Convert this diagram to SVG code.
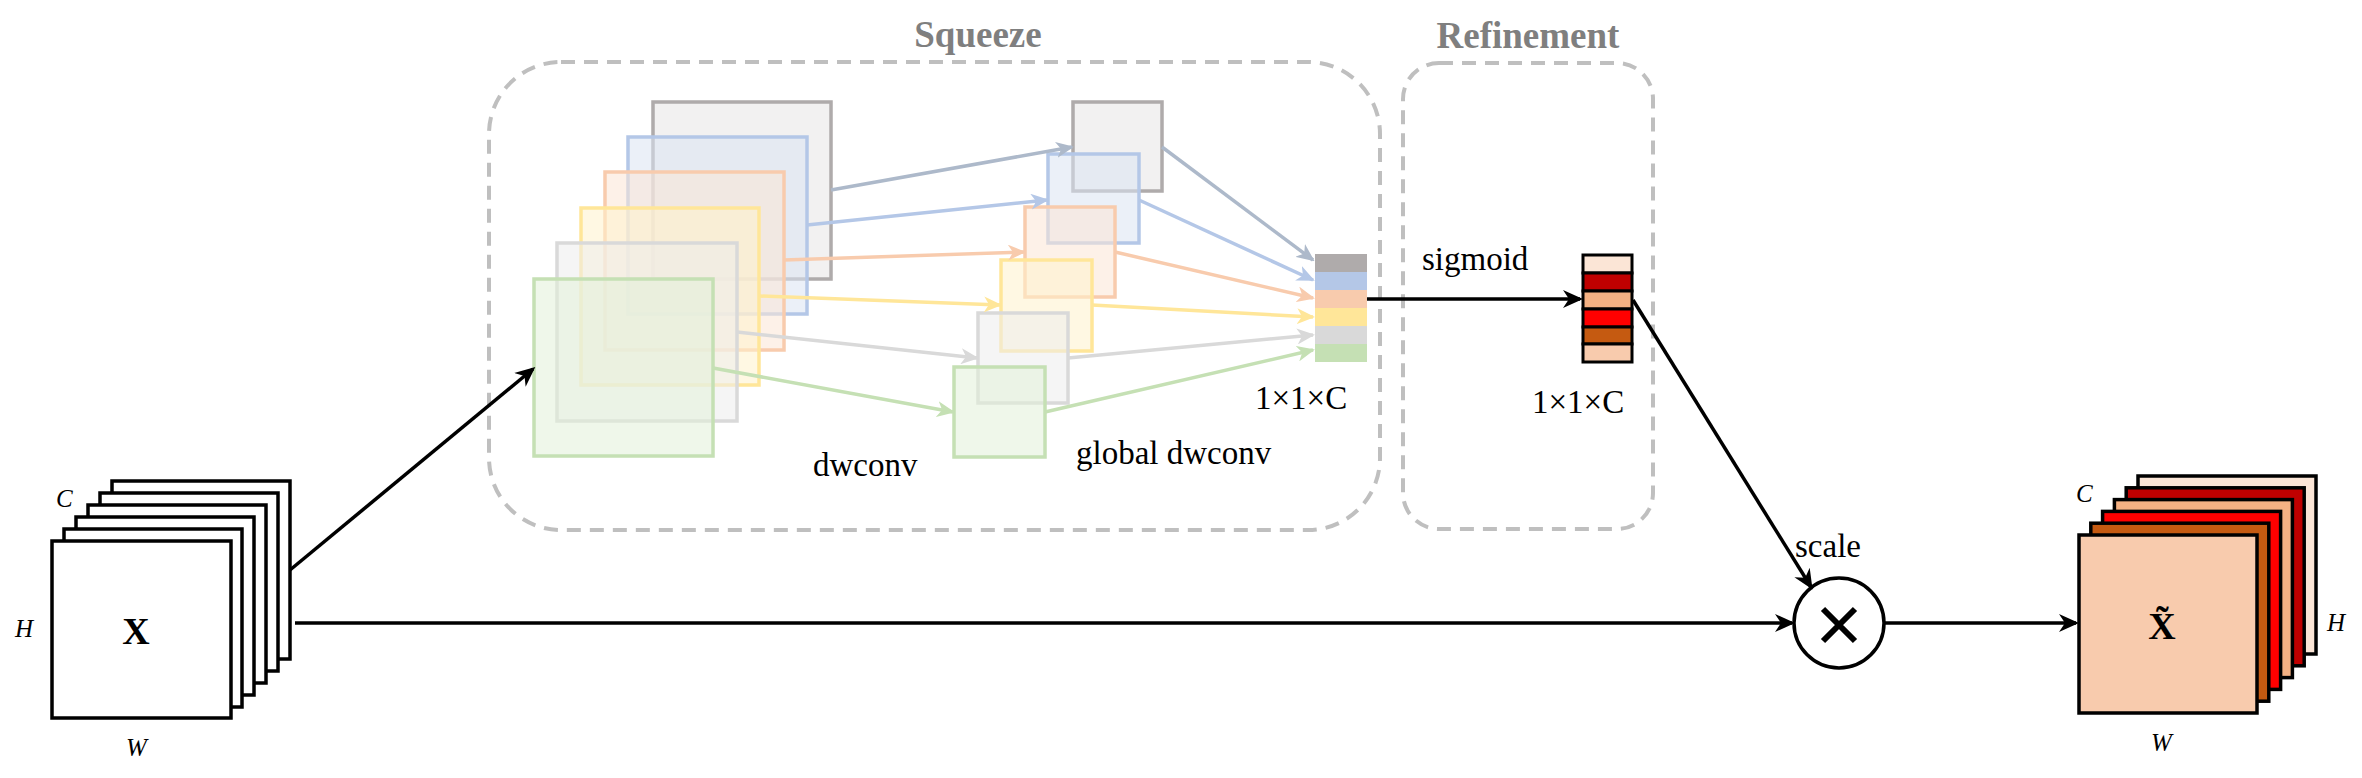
<svg xmlns="http://www.w3.org/2000/svg" width="2362" height="778" viewBox="0 0 2362 778">
<style>
  .t { font-family: "Liberation Serif", "Times New Roman", serif; fill: #000; }
  .lab { font-size: 33px; }
  .dim { font-size: 25px; font-style: italic; }
  .title { font-size: 37px; font-weight: bold; fill: #7F7F7F; text-anchor: middle; }
  .big { font-size: 38px; font-weight: bold; text-anchor: middle; }
  .grp { fill: none; stroke: #BFBFBF; stroke-width: 4; stroke-dasharray: 14 9; }
  .plane { stroke: #000; stroke-width: 3.5; }
  .fm { stroke-width: 3.5; fill-opacity: 0.55; }
  .blk { fill: none; stroke: #000; stroke-width: 3.5; }
  .ca { fill: none; stroke-width: 3.5; }
</style>
<defs>
  <marker id="ab" viewBox="0 0 20 20" refX="17" refY="10" markerWidth="20" markerHeight="20" markerUnits="userSpaceOnUse" orient="auto">
    <path d="M0,1 L20,10 L0,19 L6,10 z" fill="#000"/>
  </marker>
  <marker id="a1" viewBox="0 0 18 16" refX="16" refY="8" markerWidth="18" markerHeight="16" markerUnits="userSpaceOnUse" orient="auto"><path d="M0,0 L18,8 L0,16 L5,8 z" fill="#ADB9CA"/></marker>
  <marker id="a2" viewBox="0 0 18 16" refX="16" refY="8" markerWidth="18" markerHeight="16" markerUnits="userSpaceOnUse" orient="auto"><path d="M0,0 L18,8 L0,16 L5,8 z" fill="#B4C7E7"/></marker>
  <marker id="a3" viewBox="0 0 18 16" refX="16" refY="8" markerWidth="18" markerHeight="16" markerUnits="userSpaceOnUse" orient="auto"><path d="M0,0 L18,8 L0,16 L5,8 z" fill="#F8CBAD"/></marker>
  <marker id="a4" viewBox="0 0 18 16" refX="16" refY="8" markerWidth="18" markerHeight="16" markerUnits="userSpaceOnUse" orient="auto"><path d="M0,0 L18,8 L0,16 L5,8 z" fill="#FFE699"/></marker>
  <marker id="a5" viewBox="0 0 18 16" refX="16" refY="8" markerWidth="18" markerHeight="16" markerUnits="userSpaceOnUse" orient="auto"><path d="M0,0 L18,8 L0,16 L5,8 z" fill="#D9D9D9"/></marker>
  <marker id="a6" viewBox="0 0 18 16" refX="16" refY="8" markerWidth="18" markerHeight="16" markerUnits="userSpaceOnUse" orient="auto"><path d="M0,0 L18,8 L0,16 L5,8 z" fill="#C5E0B4"/></marker>
</defs>
<rect width="2362" height="778" fill="#fff"/>

<g id="squeeze-group">
  <rect class="grp" x="489" y="62" width="891" height="468" rx="72" ry="72"/>
  <text class="t title" x="978" y="47">Squeeze</text>
</g>
<g id="refinement-group">
  <rect class="grp" x="1403" y="63" width="250" height="466" rx="36" ry="36"/>
  <text class="t title" x="1528" y="48">Refinement</text>
</g>

<g id="input-X">
  <rect class="plane" fill="#fff" x="112" y="481" width="178" height="178"/>
  <rect class="plane" fill="#fff" x="100" y="493" width="178" height="178"/>
  <rect class="plane" fill="#fff" x="88" y="505" width="178" height="178"/>
  <rect class="plane" fill="#fff" x="76" y="517" width="178" height="178"/>
  <rect class="plane" fill="#fff" x="64" y="529" width="178" height="178"/>
  <rect class="plane" fill="#fff" x="52" y="541" width="179" height="177"/>
  <text class="t big" x="136" y="644">X</text>
  <text class="t dim" x="56" y="507">C</text>
  <text class="t dim" x="15" y="637">H</text>
  <text class="t dim" x="126" y="756">W</text>
</g>

<g id="dwconv-maps">
  <rect class="fm" x="653" y="102" width="178" height="177" fill="#E7E6E6" stroke="#AFABAB"/>
  <rect class="fm" x="628" y="137" width="179" height="177" fill="#DAE3F3" stroke="#B4C7E7"/>
  <rect class="fm" x="605" y="172" width="179" height="178" fill="#FBE5D6" stroke="#F8CBAD"/>
  <rect class="fm" x="581" y="208" width="178" height="177" fill="#FFF2CC" stroke="#FFE699"/>
  <rect class="fm" x="557" y="243" width="180" height="178" fill="#EDEDED" stroke="#D9D9D9"/>
  <rect class="fm" x="534" y="279" width="179" height="177" fill="#E2F0D9" stroke="#C5E0B4"/>
  <text class="t lab" x="813" y="476">dwconv</text>
</g>

<g id="global-dwconv-maps">
  <rect class="fm" x="1073" y="102" width="89" height="89" fill="#E7E6E6" stroke="#AFABAB"/>
  <rect class="fm" x="1048" y="154" width="91" height="89" fill="#DAE3F3" stroke="#B4C7E7"/>
  <rect class="fm" x="1025" y="207" width="90" height="90" fill="#FBE5D6" stroke="#F8CBAD"/>
  <rect class="fm" x="1001" y="260" width="91" height="91" fill="#FFF2CC" stroke="#FFE699"/>
  <rect class="fm" x="978" y="313" width="90" height="90" fill="#EDEDED" stroke="#D9D9D9"/>
  <rect class="fm" x="954" y="367" width="91" height="90" fill="#E2F0D9" stroke="#C5E0B4"/>
  <text class="t lab" x="1076" y="464">global dwconv</text>
</g>

<g id="squeeze-vector">
  <rect x="1315" y="254" width="52" height="18" fill="#AFABAB"/>
  <rect x="1315" y="272" width="52" height="18" fill="#B4C7E7"/>
  <rect x="1315" y="290" width="52" height="18" fill="#F8CBAD"/>
  <rect x="1315" y="308" width="52" height="18" fill="#FFE699"/>
  <rect x="1315" y="326" width="52" height="18" fill="#D9D9D9"/>
  <rect x="1315" y="344" width="52" height="18" fill="#C5E0B4"/>
  <text class="t lab" x="1255" y="409" font-size="34">1×1×C</text>
</g>

<g id="refinement-vector">
  <rect x="1583" y="255" width="49" height="18" fill="#FBE5D6" stroke="#000" stroke-width="3"/>
  <rect x="1583" y="273" width="49" height="18" fill="#C00000" stroke="#000" stroke-width="3"/>
  <rect x="1583" y="291" width="49" height="18" fill="#F4B183" stroke="#000" stroke-width="3"/>
  <rect x="1583" y="309" width="49" height="18" fill="#FF0000" stroke="#000" stroke-width="3"/>
  <rect x="1583" y="327" width="49" height="17" fill="#C55A11" stroke="#000" stroke-width="3"/>
  <rect x="1583" y="344" width="49" height="18" fill="#F8CBAD" stroke="#000" stroke-width="3"/>
  <text class="t lab" x="1532" y="413" font-size="34">1×1×C</text>
</g>

<g id="scale-op">
  <circle cx="1839" cy="623" r="45" fill="#fff" stroke="#000" stroke-width="3.5"/>
  <path d="M1823,609 L1855,641 M1855,609 L1823,641" stroke="#000" stroke-width="6"/>
</g>

<g id="output-X">
  <rect class="plane" fill="#FBE5D6" x="2138" y="476" width="178" height="178"/>
  <rect class="plane" fill="#C00000" x="2126.2" y="487.8" width="178" height="178"/>
  <rect class="plane" fill="#F4B183" x="2114.4" y="499.6" width="178" height="178"/>
  <rect class="plane" fill="#FF0000" x="2102.6" y="511.4" width="178" height="178"/>
  <rect class="plane" fill="#C55A11" x="2090.8" y="523.2" width="178" height="178"/>
  <rect class="plane" fill="#F8CBAD" x="2079" y="535" width="178" height="178"/>
  <text class="t big" x="2162" y="639">X̃</text>
  <text class="t dim" x="2076" y="502">C</text>
  <text class="t dim" x="2327" y="631">H</text>
  <text class="t dim" x="2151" y="751">W</text>
</g>

<g id="connectors">
  <path class="ca" stroke="#ADB9CA" marker-end="url(#a1)" d="M831,190 L1072,147"/>
  <path class="ca" stroke="#B4C7E7" marker-end="url(#a2)" d="M807,225 L1047,200"/>
  <path class="ca" stroke="#F8CBAD" marker-end="url(#a3)" d="M784,260 L1024,252"/>
  <path class="ca" stroke="#FFE699" marker-end="url(#a4)" d="M759,296 L1000,305"/>
  <path class="ca" stroke="#D9D9D9" marker-end="url(#a5)" d="M737,332 L977,358"/>
  <path class="ca" stroke="#C5E0B4" marker-end="url(#a6)" d="M713,368 L953,412"/>

  <path class="ca" stroke="#ADB9CA" marker-end="url(#a1)" d="M1162,147 L1313,260"/>
  <path class="ca" stroke="#B4C7E7" marker-end="url(#a2)" d="M1139,200 L1313,280"/>
  <path class="ca" stroke="#F8CBAD" marker-end="url(#a3)" d="M1115,252 L1313,298"/>
  <path class="ca" stroke="#FFE699" marker-end="url(#a4)" d="M1092,305 L1313,317"/>
  <path class="ca" stroke="#D9D9D9" marker-end="url(#a5)" d="M1068,358 L1313,335"/>
  <path class="ca" stroke="#C5E0B4" marker-end="url(#a6)" d="M1045,412 L1313,350"/>

  <path class="blk" marker-end="url(#ab)" d="M290,570 L533,369"/>
  <path class="blk" marker-end="url(#ab)" d="M295,623 L1792,623"/>
  <path class="blk" marker-end="url(#ab)" d="M1367,299 L1580,299"/>
  <path class="blk" marker-end="url(#ab)" d="M1633,300 L1811,587"/>
  <path class="blk" marker-end="url(#ab)" d="M1884,623 L2076,623"/>
  <text class="t lab" x="1422" y="270">sigmoid</text>
  <text class="t lab" x="1795" y="557">scale</text>
</g>
</svg>
